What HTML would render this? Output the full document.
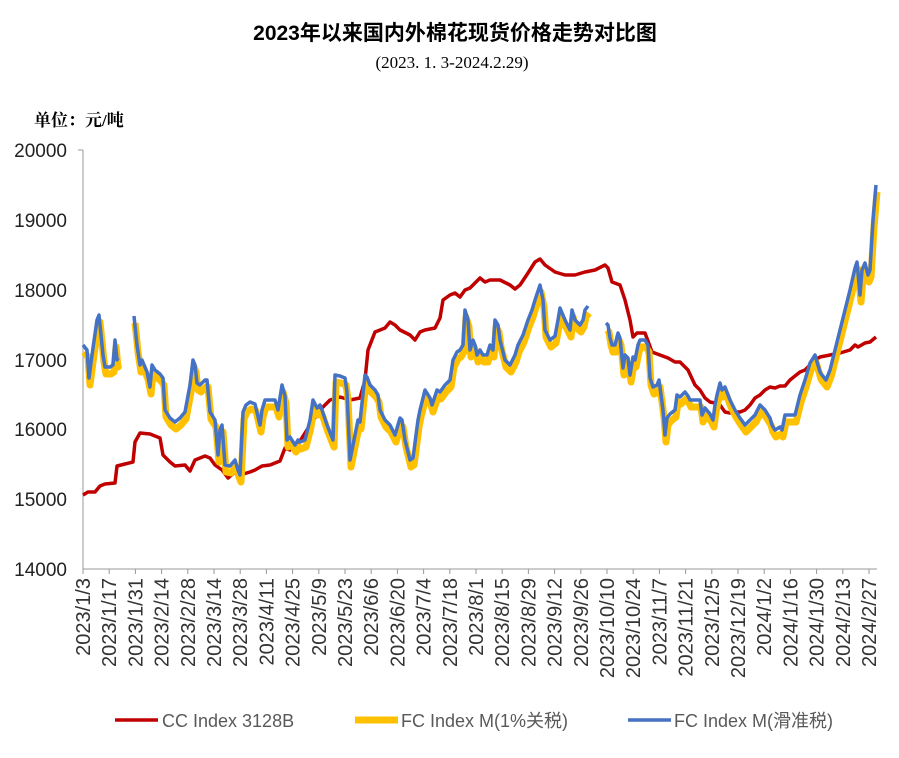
<!DOCTYPE html>
<html><head><meta charset="utf-8"><style>
body{margin:0;background:#fff;}
svg{display:block;}
</style></head><body>
<svg width="899" height="758" xmlns="http://www.w3.org/2000/svg" font-family="Liberation Sans, Noto Sans CJK SC, sans-serif">
<text x="455" y="40" text-anchor="middle" font-size="21" font-weight="bold" fill="#000" font-family="Liberation Sans, Noto Sans CJK SC, sans-serif">2023年以来国内外棉花现货价格走势对比图</text>
<text x="452" y="68" text-anchor="middle" font-size="17" fill="#000" font-family="Liberation Serif, Noto Serif CJK SC, serif">(2023. 1. 3-2024.2.29)</text>
<text x="34" y="126" font-size="17" font-weight="bold" fill="#000" font-family="Liberation Serif, Noto Serif CJK SC, serif">单位：元/吨</text>
<g font-size="19" fill="#222" text-anchor="end">
<text x="67" y="157">20000</text><text x="67" y="227">19000</text><text x="67" y="297">18000</text>
<text x="67" y="367">17000</text><text x="67" y="436">16000</text><text x="67" y="506">15000</text><text x="67" y="576">14000</text>
</g>
<line x1="83" y1="150" x2="83" y2="569" stroke="#999" stroke-width="1"/>
<line x1="78" y1="150" x2="83" y2="150" stroke="#999"/>
<line x1="83" y1="569" x2="877" y2="569" stroke="#999" stroke-width="1"/>
<g id="ticks" stroke="#999"></g>
<g id="xl" font-size="20" fill="#333"></g>
<polyline fill="none" stroke="#C00000" stroke-width="3.5" stroke-linejoin="round" points="83,495 88,492 95,492 100,486 105,484 115,483 117,466 125,464 133,462 135,442 140,433 150,434 160,438 163,455 170,462 175,466 185,465 190,471 195,460 205,456 210,458 215,465 222,470 228,478 235,472 240,475 250,472 255,470 262,466 270,465 280,461 285,448 290,450 300,441 310,425 320,410 330,400 340,397 350,400 360,398 365,380 368,350 375,332 385,328 390,322 395,325 400,330 410,335 415,340 420,332 425,330 435,328 440,318 443,300 450,295 455,293 460,297 465,290 470,288 480,278 485,282 490,280 500,280 510,285 515,289 520,285 528,273 535,262 540,259 545,265 555,272 565,275 575,275 585,272 595,270 605,265 608,268 612,282 620,285 625,300 630,320 633,337 637,333 645,333 652,352 660,355 668,358 675,362 680,362 688,370 695,385 700,390 705,398 710,402 715,403 720,405 725,412 730,413 735,412 740,412 745,410 750,405 755,398 760,395 765,390 770,387 775,388 780,386 785,386 790,380 795,376 800,372 805,370 810,365 815,360 820,357 830,355 840,353 850,350 855,345 858,347 865,343 870,342 876,337"/>
<g id="fc" fill="none" stroke-linejoin="round">
<g id="segs">
<polyline points="83,345 87,350 89,378 92,355 97,320 99,315 103,355 105,367 110,367 113,365 115,340 117,360 118,358"/>
<polyline points="134,316 137,345 140,365 142,360 147,372 150,387 152,365 155,370 160,374 163,378 165,410 170,418 175,422 180,418 185,412 190,385 193,360 195,365 197,383 200,385 205,380 207,380 210,412 215,420 218,455 220,430 222,425 225,465 230,466 235,460 238,470 240,475 243,412 246,405 250,402 255,404 260,425 262,410 265,400 270,400 275,400 278,410 282,385 285,396 287,440 290,437 295,445 298,440 300,442 305,440 310,420 313,400 317,408 320,405 322,410 327,425 333,440 335,375 340,376 345,378 347,392 350,460 355,435 358,420 360,422 365,375 367,377 370,385 375,390 378,395 380,410 385,420 390,425 395,435 400,418 402,420 405,440 410,460 413,458 418,420 420,410 425,390 430,398 432,405 437,390 440,392 445,385 450,380 453,360 457,352 460,350 463,345 465,310 468,320 470,350 473,340 475,345 477,355 480,350 483,355 487,355 490,345 493,350 495,320 498,325 500,340 505,360 510,365 515,355 518,345 523,335 528,320 532,310 535,300 540,285 543,300 545,330 550,340 555,336 558,320 560,308 565,320 570,330 572,310 575,320 580,325 583,320 585,310 588,306"/>
<polyline points="606,323 608,325 610,338 612,345 615,345 618,333 620,338 623,368 625,355 628,358 630,375 633,357 635,360 638,345 640,340 645,340 648,345 650,378 653,387 657,385 659,380 663,410 665,435 667,418 670,414 675,410 677,395 680,397 685,392 688,396 690,400 695,400 700,400 702,415 705,408 710,414 713,420 715,405 717,395 720,383 722,390 725,387 730,400 735,410 740,418 745,425 750,420 755,415 760,405 765,410 770,418 772,425 775,430 780,427 782,430 785,415 790,415 795,415 800,395 805,380 810,363 815,355 820,372 822,375 826,380 830,370 835,350 840,330 845,310 850,290 855,268 857,262 860,295 862,270 865,263 868,275 870,270 873,220 876,185"/>
</g>
</g>
<g transform="translate(33,0)">
<line x1="82" y1="720" x2="125" y2="720" stroke="#C00000" stroke-width="3.5"/>
<line x1="322" y1="720" x2="365" y2="720" stroke="#FFC000" stroke-width="7"/>
<line x1="595" y1="720" x2="638" y2="720" stroke="#4472C4" stroke-width="3.5"/>
</g>
<g font-size="18" fill="#595959">
<text x="162" y="727">CC Index 3128B</text>
<text x="401" y="727">FC Index M(1%关税)</text>
<text x="674" y="727">FC Index M(滑准税)</text>
</g>
<script>
var ns="http://www.w3.org/2000/svg";
var labels=["2023/1/3","2023/1/17","2023/1/31","2023/2/14","2023/2/28","2023/3/14","2023/3/28","2023/4/11","2023/4/25","2023/5/9","2023/5/23","2023/6/6","2023/6/20","2023/7/4","2023/7/18","2023/8/1","2023/8/15","2023/8/29","2023/9/12","2023/9/26","2023/10/10","2023/10/24","2023/11/7","2023/11/21","2023/12/5","2023/12/19","2024/1/2","2024/1/16","2024/1/30","2024/2/13","2024/2/27"];
var t=document.getElementById("ticks"),xl=document.getElementById("xl");
labels.forEach(function(l,i){var x=83+i*26.2;
var ln=document.createElementNS(ns,"line");ln.setAttribute("x1",x);ln.setAttribute("x2",x);ln.setAttribute("y1",569);ln.setAttribute("y2",574);t.appendChild(ln);
var tx=document.createElementNS(ns,"text");tx.setAttribute("transform","translate("+(x+7)+",578) rotate(-90)");tx.setAttribute("text-anchor","end");tx.textContent=l;xl.appendChild(tx);});
var segs=document.getElementById("segs"),fc=document.getElementById("fc");
var y=segs.cloneNode(true);y.setAttribute("stroke","#FFC000");y.setAttribute("stroke-width","7");y.setAttribute("transform","translate(1,7)");
segs.setAttribute("stroke","#4472C4");segs.setAttribute("stroke-width","3.5");
fc.insertBefore(y,segs);
</script>
</svg>
</body></html>
